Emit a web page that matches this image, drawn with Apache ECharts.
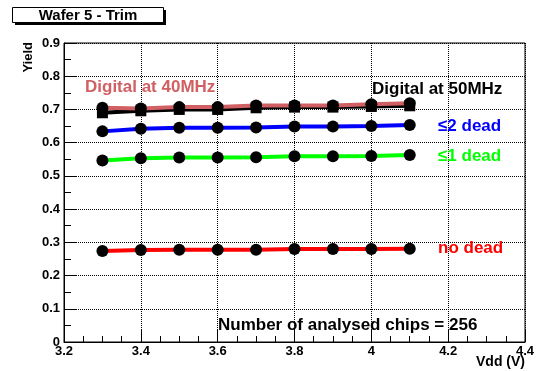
<!DOCTYPE html>
<html><head><meta charset="utf-8">
<script src="https://cdn.jsdelivr.net/npm/echarts@6/dist/echarts.min.js"></script>
<style>html,body{margin:0;padding:0;background:#fff}#c{width:539px;height:371px}</style>
</head><body><div id="c"></div>
<script>
const vdd = [3.3, 3.4, 3.5, 3.6, 3.7, 3.8, 3.9, 4.0, 4.1];
const digital40 = [0.705, 0.703, 0.707, 0.707, 0.712, 0.712, 0.712, 0.716, 0.719];
const digital50 = [0.690, 0.696, 0.700, 0.700, 0.705, 0.707, 0.707, 0.709, 0.711];
const le2dead = [0.634, 0.642, 0.645, 0.645, 0.646, 0.649, 0.649, 0.650, 0.653];
const le1dead = [0.546, 0.553, 0.555, 0.555, 0.556, 0.559, 0.559, 0.560, 0.563];
const noDead = [0.274, 0.277, 0.278, 0.278, 0.278, 0.280, 0.280, 0.280, 0.281];
const yTicks = [0, 0.1, 0.2, 0.3, 0.4, 0.5, 0.6, 0.7, 0.8, 0.9];
const xTicks = [3.2, 3.4, 3.6, 3.8, 4.0, 4.2, 4.4];

const F = 'Liberation Sans, Arial, Helvetica, sans-serif';
const pair = ys => vdd.map((x, i) => [x, ys[i]]);
function mkSeries(name, ys, color, symbol, z) {
  return {
    name, type: 'line', data: pair(ys), z,
    symbol, symbolSize: symbol === 'rect' ? 11 : 12,
    itemStyle: {color: '#000'},
    lineStyle: {color, width: 4},
    animation: false
  };
}
const chart = echarts.init(document.getElementById('c'), null, {renderer: 'canvas'});
chart.setOption({
  animation: false,
  grid: {left: 64, right: 14, top: 43, bottom: 29, outerBoundsMode: 'none', containLabel: false,
    show: true, borderColor: '#000', borderWidth: 1, backgroundColor: 'transparent'},
  xAxis: {
    type: 'value', min: xTicks[0], max: xTicks[xTicks.length - 1], interval: 0.2,
    axisLine: {lineStyle: {color: '#000', width: 1}},
    axisTick: {inside: true, length: 12, lineStyle: {color: '#000'}},
    minorTick: {show: true, splitNumber: 4, length: 6, lineStyle: {color: '#000'}},
    splitLine: {show: true, lineStyle: {color: '#000', type: 'dotted', width: 1}},
    axisLabel: {color: '#000', fontFamily: F, fontWeight: 'bold', fontSize: 13, margin: 3,
      formatter: v => String(+v.toFixed(1))}
  },
  yAxis: {
    type: 'value', min: yTicks[0], max: yTicks[yTicks.length - 1], interval: 0.1,
    axisLine: {show: true, lineStyle: {color: '#000', width: 1}},
    axisTick: {show: true, inside: true, length: 12, lineStyle: {color: '#000'}},
    minorTick: {show: true, splitNumber: 2, length: 7, lineStyle: {color: '#000'}},
    splitLine: {show: true, lineStyle: {color: '#000', type: 'dotted', width: 1}},
    axisLabel: {color: '#000', fontFamily: F, fontWeight: 'bold', fontSize: 13, margin: 4,
      formatter: v => String(+v.toFixed(1))}
  },
  series: [
    mkSeries('noDead', noDead, '#ff0000', 'circle', 2),
    mkSeries('le1dead', le1dead, '#00ff00', 'circle', 2),
    mkSeries('le2dead', le2dead, '#0000ff', 'circle', 2),
    mkSeries('digital50', digital50, '#000000', 'rect', 2),
    mkSeries('digital40', digital40, '#d06063', 'circle', 3)
  ],
  graphic: [
    {type: 'rect', shape: {x: 15, y: 10, width: 151, height: 15}, style: {fill: '#000'}, z: 10},
    {type: 'rect', shape: {x: 12.5, y: 7.5, width: 151, height: 15}, style: {fill: '#fff', stroke: '#000', lineWidth: 1}, z: 11},
    {type: 'text', x: 88, y: 15.5, style: {text: 'Wafer 5 - Trim', fill: '#000', font: 'bold 15px ' + F, align: 'center', verticalAlign: 'middle'}, z: 12},
    {type: 'text', x: 28, y: 42, rotation: Math.PI / 2, style: {text: 'Yield', fill: '#000', font: 'bold 13px ' + F, align: 'right', verticalAlign: 'middle'}, z: 12},
    {type: 'text', x: 525, y: 362, style: {text: 'Vdd (V)', fill: '#000', font: 'bold 14px ' + F, align: 'right', verticalAlign: 'middle'}, z: 12},
    {type: 'text', x: 85, y: 87, style: {text: 'Digital at 40MHz', fill: '#d06063', font: 'bold 17px ' + F, verticalAlign: 'middle'}, z: 12},
    {type: 'text', x: 372, y: 89, style: {text: 'Digital at 50MHz', fill: '#000', font: 'bold 17px ' + F, verticalAlign: 'middle'}, z: 12},
    {type: 'text', x: 438, y: 126, style: {text: '≤2 dead', fill: '#0000ff', font: 'bold 17px ' + F, verticalAlign: 'middle'}, z: 12},
    {type: 'text', x: 438, y: 156, style: {text: '≤1 dead', fill: '#00ff00', font: 'bold 17px ' + F, verticalAlign: 'middle'}, z: 12},
    {type: 'text', x: 438, y: 248, style: {text: 'no dead', fill: '#ff0000', font: 'bold 17px ' + F, verticalAlign: 'middle'}, z: 12},
    {type: 'text', x: 218, y: 325, style: {text: 'Number of analysed chips = 256', fill: '#000', font: 'bold 17px ' + F, verticalAlign: 'middle'}, z: 12}
  ]
});
</script></body></html>
